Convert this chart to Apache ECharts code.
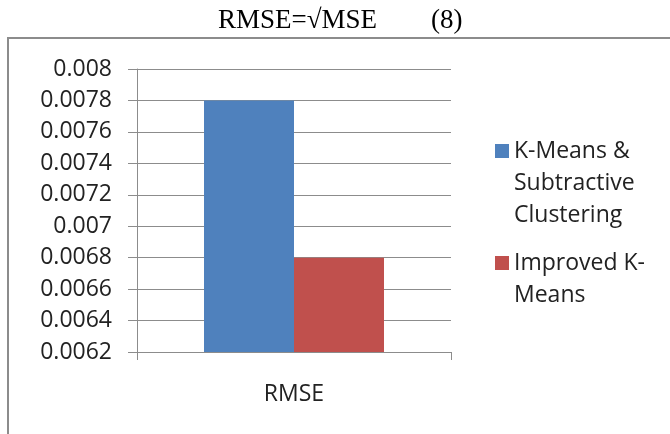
<!DOCTYPE html>
<html>
<head>
<meta charset="utf-8">
<script src="https://cdn.jsdelivr.net/npm/echarts@6/dist/echarts.min.js"></script>
<style>
html,body{margin:0;padding:0;background:#fff;}
#c{width:670px;height:434px;}
</style>
</head>
<body>
<div id="c"></div>
<script>
var categories = ['RMSE'];
var seriesNames = ['K-Means & Subtractive Clustering', 'Improved K-Means'];
var kmeansSub = [0.0078];
var improved = [0.0068];
var yMin = 0.0062, yMax = 0.008, yStep = 0.0002;
var titleText = 'RMSE=\u221AMSE        (8)';
var legendLines = {
  'K-Means & Subtractive Clustering': ['K-Means &', 'Subtractive', 'Clustering'],
  'Improved K-Means': ['Improved K-', 'Means']
};

// put (n-1) empty lines before the text so that the first line sits level with the icon
function legendFormat(n) {
  var lines = legendLines[n];
  var pad = [];
  for (var i = 0; i < lines.length - 1; i++) pad.push(' ');
  return pad.concat(lines).join('\n');
}

var chart = echarts.init(document.getElementById('c'), null, {renderer: 'canvas'});
var font = 'Open Sans';
var legendText = {
  fontFamily: font, fontSize: 23, color: '#222', lineHeight: 32
};
chart.setOption({
  animation: false,
  title: {
    text: titleText,
    left: 218,
    top: 7,
    padding: 0,
    textStyle: {fontFamily: 'Liberation Serif', fontSize: 27, fontWeight: 'normal', color: '#000'}
  },
  graphic: [{
    type: 'rect',
    shape: {x: 8, y: 38, width: 700, height: 450},
    style: {fill: null, stroke: '#8c8c8c', lineWidth: 2},
    silent: true
  }],
  grid: {left: 137, right: 219, top: 69, bottom: 82, containLabel: false},
  legend: [{
    data: [seriesNames[0]],
    orient: 'vertical',
    left: 495, top: 71, padding: 0,
    itemWidth: 14, itemHeight: 14,
    icon: 'rect',
    formatter: legendFormat,
    textStyle: legendText
  }, {
    data: [seriesNames[1]],
    orient: 'vertical',
    left: 495, top: 215, padding: 0,
    itemWidth: 14, itemHeight: 14,
    icon: 'rect',
    formatter: legendFormat,
    textStyle: legendText
  }],
  xAxis: {
    type: 'category',
    data: categories,
    boundaryGap: true,
    axisLine: {lineStyle: {color: '#8c8c8c', width: 1}},
    axisTick: {show: true, length: 8, lineStyle: {color: '#8c8c8c'}},
    axisLabel: {fontFamily: font, fontSize: 23, color: '#222', margin: 31}
  },
  yAxis: {
    type: 'value',
    min: yMin, max: yMax, interval: yStep,
    axisLine: {show: true, lineStyle: {color: '#8c8c8c', width: 1}},
    axisTick: {show: true, length: 9, lineStyle: {color: '#8c8c8c'}},
    splitLine: {show: true, lineStyle: {color: '#8c8c8c', width: 1}},
    axisLabel: {
      fontFamily: font, fontSize: 23, color: '#222', margin: 25,
      formatter: function (v) { return String(+v.toFixed(4)); }
    }
  },
  series: [{
    name: seriesNames[0], type: 'bar', data: kmeansSub,
    barWidth: 90, barGap: '0%',
    itemStyle: {color: '#4F81BD'}
  }, {
    name: seriesNames[1], type: 'bar', data: improved,
    barWidth: 90, barGap: '0%',
    itemStyle: {color: '#C0504D'}
  }]
});
</script>
</body>
</html>
